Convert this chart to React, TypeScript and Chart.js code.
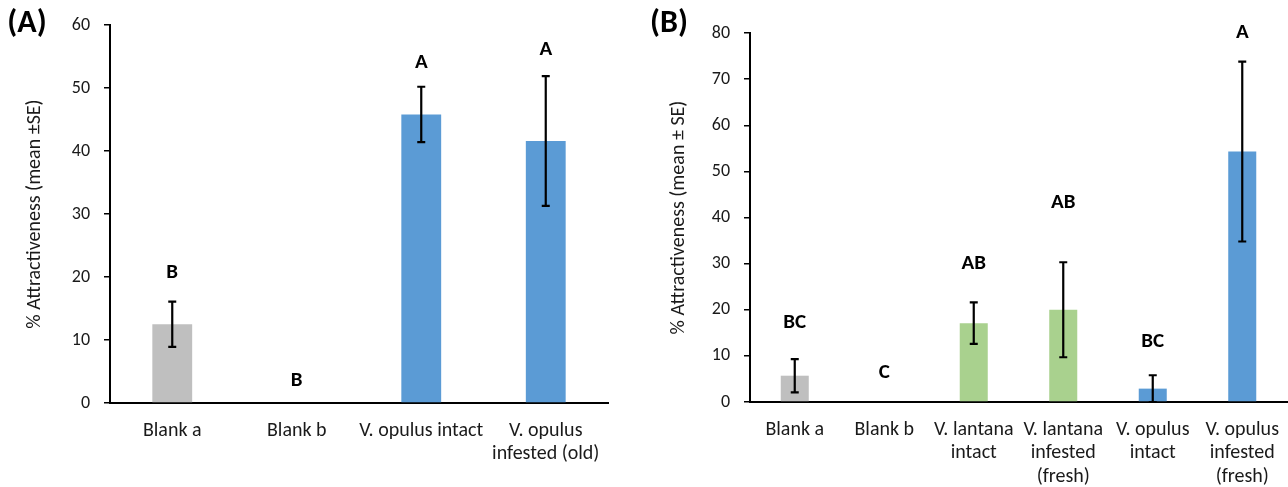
import React, { useEffect, useRef } from "react";
import { Chart, registerables } from "chart.js";

Chart.register(...registerables);

// ---------- Panel (A) ----------
const catsA: (string | string[])[] = ["Blank a", "Blank b", "V. opulus intact", ["V. opulus", "infested (old)"]];
const valsA = [12.5, 0, 45.8, 41.6];
const errsA = [3.6, 0, 4.4, 10.3];
const lettersA = ["B", "B", "A", "A"];
const letterPosA = [20.6, 3.6, 54.0, 56.1];
const colorsA = ["#BFBFBF", "#BFBFBF", "#5B9BD5", "#5B9BD5"];
const ticksA = { min: 0, max: 60, step: 10 };

// ---------- Panel (B) ----------
const catsB: (string | string[])[] = [
  "Blank a",
  "Blank b",
  ["V. lantana", "intact"],
  ["V. lantana", "infested", "(fresh)"],
  ["V. opulus", "intact"],
  ["V. opulus", "infested", "(fresh)"],
];
const valsB = [5.7, 0, 17.1, 20.0, 2.9, 54.3];
const errsB = [3.6, 0, 4.5, 10.3, 2.9, 19.5];
const lettersB = ["BC", "C", "AB", "AB", "BC", "A"];
const letterPosB = [17.1, 6.3, 30.0, 43.2, 13.1, 80.0];
const colorsB = ["#BFBFBF", "#BFBFBF", "#A9D18E", "#A9D18E", "#5B9BD5", "#5B9BD5"];
const ticksB = { min: 0, max: 80, step: 10 };

const FONT = "Carlito, Calibri, 'Open Sans', sans-serif";
const TEXT = "#1a1a1a";

type PanelCfg = {
  cats: (string | string[])[];
  vals: number[];
  errs: number[];
  letters: string[];
  letterPos: number[];
  colors: string[];
  ticks: { min: number; max: number; step: number };
  panel: string;
  panelX: number;
  yTitle: string;
  titlePad: number;
  padTop: number;
  padRight: number;
  xHeight: number;
  barPct: number;
};

function makeChart(canvas: HTMLCanvasElement, c: PanelCfg) {
  const overlay = {
    id: "overlay",
    afterDatasetsDraw(chart: any) {
      const ctx = chart.ctx;
      const meta = chart.getDatasetMeta(0);
      const ys = chart.scales.y;
      ctx.save();
      ctx.strokeStyle = "#000";
      ctx.lineWidth = 2.2;
      meta.data.forEach((bar: any, i: number) => {
        const e = c.errs[i];
        if (!e) return;
        const x = bar.x;
        const t = ys.getPixelForValue(c.vals[i] + e);
        const b = ys.getPixelForValue(Math.max(0, c.vals[i] - e));
        ctx.beginPath();
        ctx.moveTo(x, t);
        ctx.lineTo(x, b);
        ctx.moveTo(x - 4, t);
        ctx.lineTo(x + 4, t);
        ctx.moveTo(x - 4, b);
        ctx.lineTo(x + 4, b);
        ctx.stroke();
      });
      ctx.fillStyle = "#000";
      ctx.font = `bold 21px ${FONT}`;
      ctx.textAlign = "center";
      ctx.textBaseline = "middle";
      meta.data.forEach((bar: any, i: number) => {
        ctx.fillText(c.letters[i], bar.x, ys.getPixelForValue(c.letterPos[i]));
      });
      ctx.font = `bold 32px ${FONT}`;
      ctx.fillText(c.panel, c.panelX, 24);
      ctx.restore();
    },
  };

  return new Chart(canvas, {
    type: "bar",
    data: {
      labels: c.cats as any,
      datasets: [
        {
          data: c.vals,
          backgroundColor: c.colors,
          borderWidth: 0,
          barPercentage: c.barPct,
          categoryPercentage: 1,
        },
      ],
    },
    options: {
      animation: false,
      responsive: false,
      maintainAspectRatio: false,
      layout: { padding: { left: 0, top: c.padTop, right: c.padRight, bottom: 0 } },
      plugins: { legend: { display: false }, tooltip: { enabled: false } },
      scales: {
        x: {
          grid: { display: false },
          border: { display: true, color: "#000", width: 2 },
          ticks: {
            color: TEXT,
            font: { family: FONT, size: 20, lineHeight: 1.17 },
            padding: 8,
            maxRotation: 0,
            autoSkip: false,
          },
          afterFit(scale: any) {
            scale.height = c.xHeight;
          },
        },
        y: {
          min: c.ticks.min,
          max: c.ticks.max,
          ticks: {
            stepSize: c.ticks.step,
            color: TEXT,
            font: { family: FONT, size: 18 },
            padding: 14,
          },
          grid: {
            display: true,
            drawOnChartArea: false,
            drawTicks: true,
            tickLength: 6,
            color: "#000",
            lineWidth: 1.5,
          },
          border: { display: true, color: "#000", width: 2 },
          title: {
            display: true,
            text: c.yTitle,
            color: TEXT,
            font: { family: FONT, size: 20 },
            padding: { top: c.titlePad, bottom: 0 },
          },
          afterFit(scale: any) {
            scale.width = 110;
          },
        },
      },
    },
    plugins: [overlay],
  } as any);
}

export default function App() {
  const refA = useRef<HTMLCanvasElement>(null);
  const refB = useRef<HTMLCanvasElement>(null);

  useEffect(() => {
    const a = makeChart(refA.current!, {
      cats: catsA,
      vals: valsA,
      errs: errsA,
      letters: lettersA,
      letterPos: letterPosA,
      colors: colorsA,
      ticks: ticksA,
      panel: "(A)",
      panelX: 27,
      yTitle: "% Attractiveness (mean ±SE)",
      titlePad: 23,
      padTop: 25,
      padRight: 32,
      xHeight: 84,
      barPct: 0.32,
    });
    const b = makeChart(refB.current!, {
      cats: catsB,
      vals: valsB,
      errs: errsB,
      letters: lettersB,
      letterPos: letterPosB,
      colors: colorsB,
      ticks: ticksB,
      panel: "(B)",
      panelX: 29,
      yTitle: "% Attractiveness (mean ± SE)",
      titlePad: 27,
      padTop: 33,
      padRight: 1,
      xHeight: 85,
      barPct: 0.313,
    });
    return () => {
      a.destroy();
      b.destroy();
    };
  }, []);

  return (
    <div style={{ position: "absolute", left: 0, top: 0, width: 1288, height: 487, background: "#fff" }}>
      <canvas ref={refA} width={640} height={487} style={{ position: "absolute", left: 0, top: 0 }} />
      <canvas ref={refB} width={648} height={487} style={{ position: "absolute", left: 640, top: 0 }} />
    </div>
  );
}
